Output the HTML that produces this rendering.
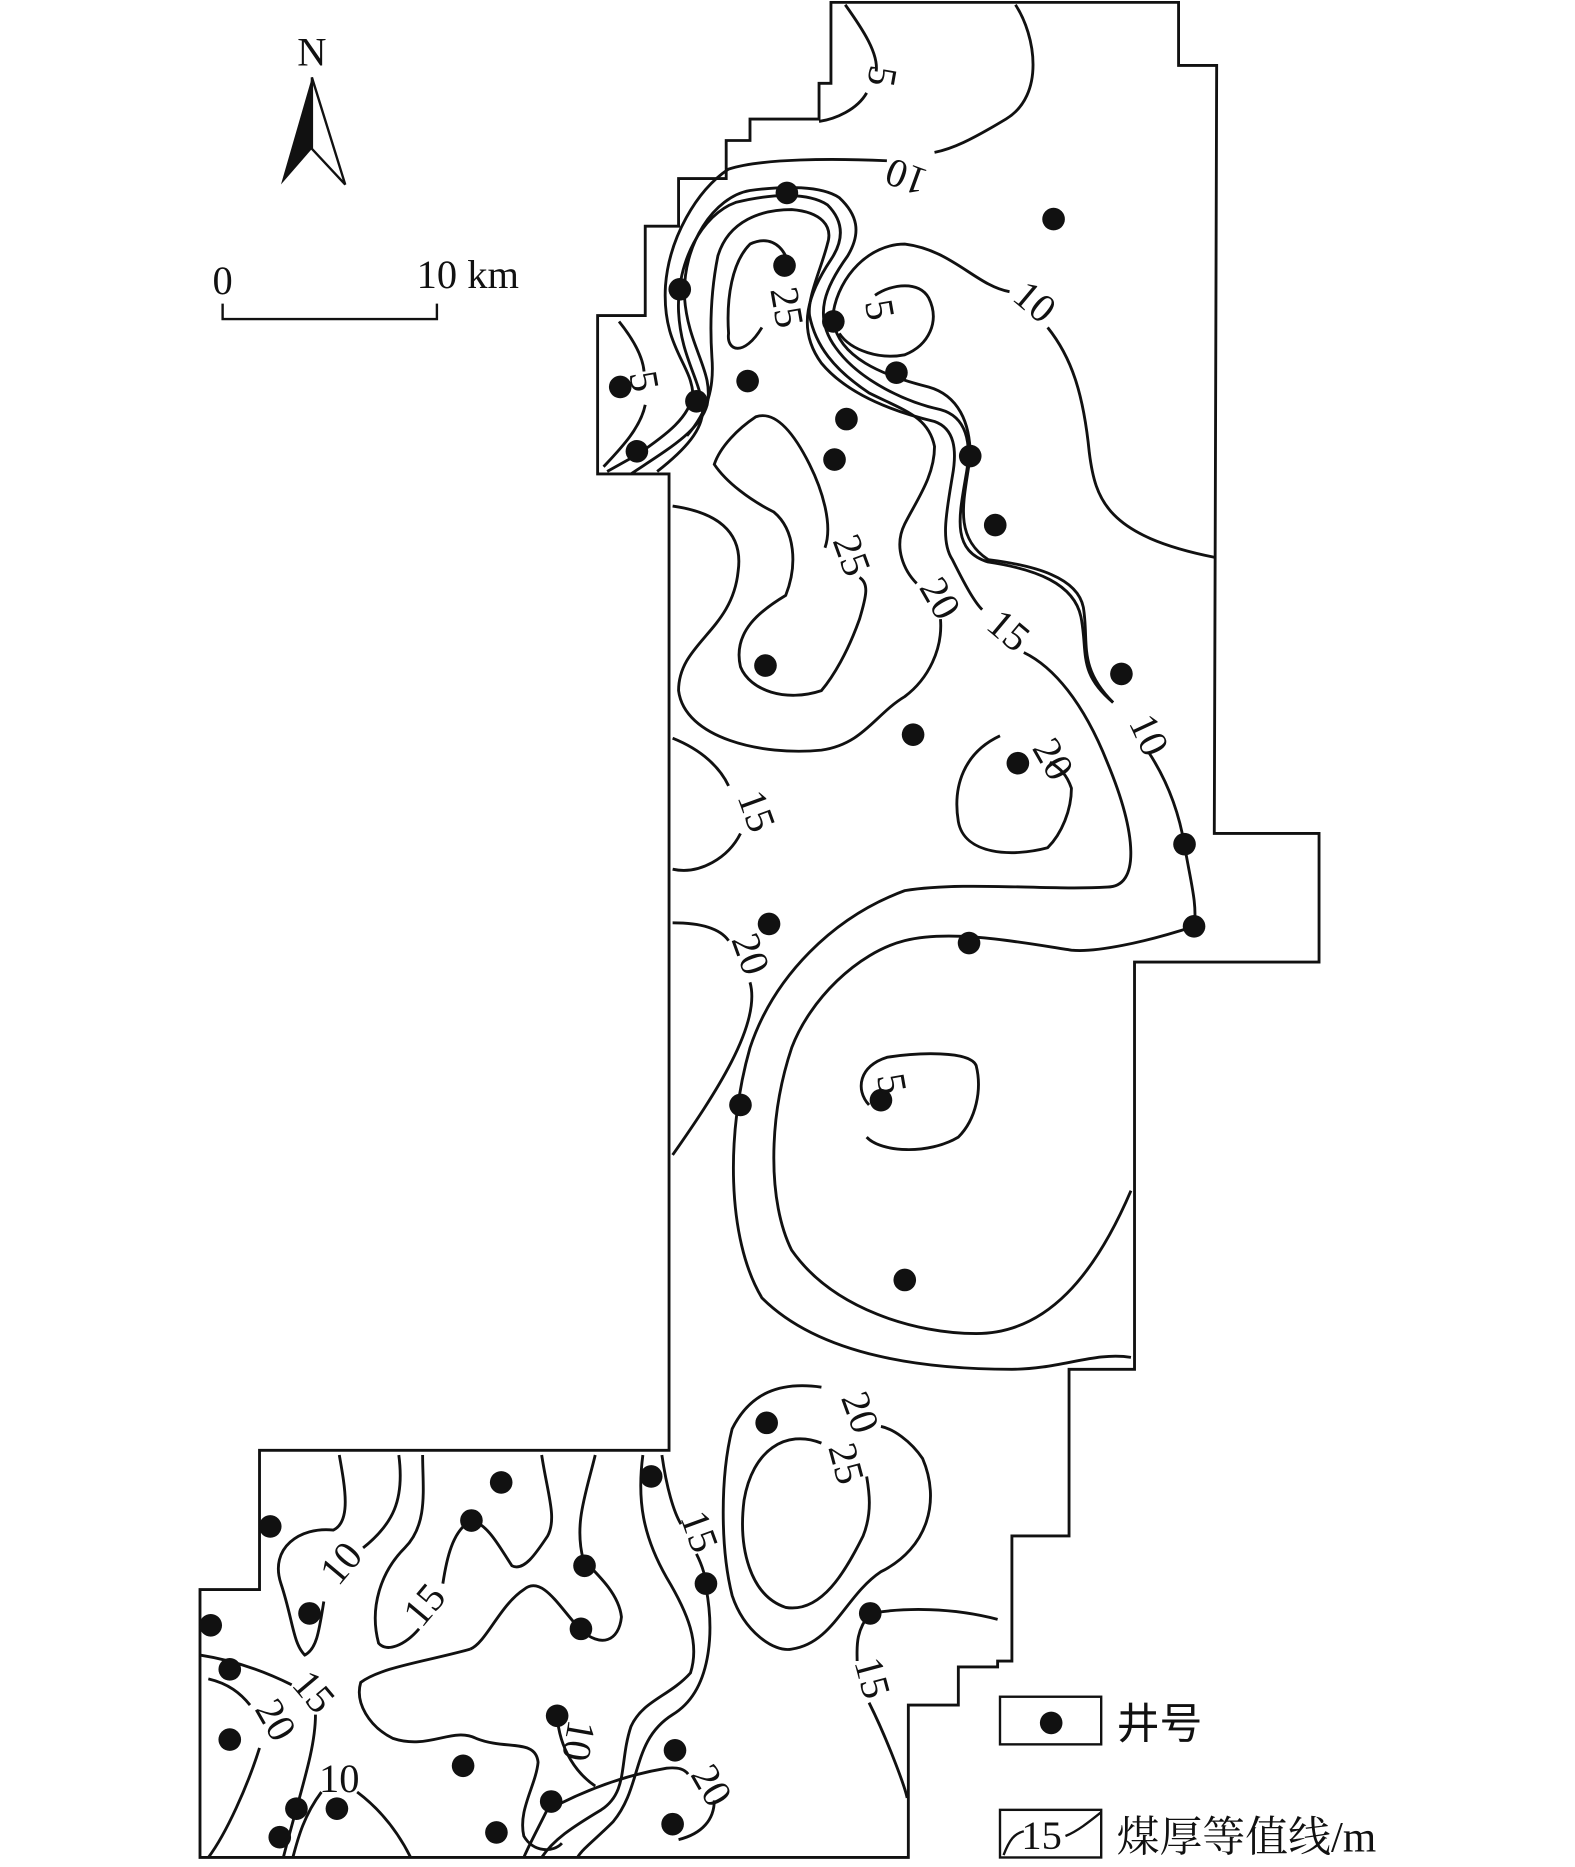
<!DOCTYPE html>
<html><head><meta charset="utf-8"><style>html,body{margin:0;padding:0;background:#fff}svg{display:block}</style></head>
<body>
<svg width="1575" height="1867" viewBox="0 0 1323 1568" preserveAspectRatio="none" xmlns="http://www.w3.org/2000/svg" font-family="Liberation Serif, serif">
<g fill="none" stroke="#111" stroke-width="2.4">
<path d="M698,2 L990,2 L990,55 L1022,55 L1020,700 L1108,700 L1108,808 L953,808 L953,1150 L898,1150 L898,1290 L850,1290 L850,1395 L838,1395 L838,1400 L805,1400 L805,1432 L763,1432 L763,1560 L168,1560 L168,1335 L218,1335 L218,1218 L562,1218 L562,398 L502,398 L502,265 L542,265 L542,190 L570,190 L570,150 L610,150 L610,118 L630,118 L630,100 L688,100 L688,70 L698,70 Z"/>
<path d="M710,4 C725,25 738,45 736,60"/><path d="M728,78 C720,92 702,100 688,102"/>
<path d="M853,4 C870,30 878,80 845,100 C815,118 800,125 785,128"/>
<path d="M745,135 C700,133 640,133 612,142 C585,160 562,200 559,240 C556,290 580,305 582,330 C580,350 560,365 535,382 L510,396"/>
<path d="M520,270 C532,285 540,300 541,312"/><path d="M542,340 C538,360 520,378 507,392"/>
<path d="M530,398 C560,378 588,362 594,340 C600,312 578,292 575,250 C573,205 600,165 630,160 C660,156 690,156 705,166 C720,180 724,195 712,215 C694,240 682,265 702,292 C722,320 762,338 790,344 C812,350 816,372 812,396 C806,432 798,462 830,472 C870,478 902,490 908,518 C914,548 905,565 935,590"/>
<path d="M552,396 C575,378 592,360 590,342 C588,318 572,300 570,262 C568,220 590,180 618,170 C650,162 680,162 695,172 C708,185 710,200 698,218 C680,245 668,275 690,305 C715,335 760,348 785,354 C802,360 804,378 800,400 C795,430 790,455 800,470 C810,490 818,505 825,512"/>
<path d="M860,548 C885,560 910,590 930,640 C955,700 958,745 930,745 C880,748 810,740 760,748 C700,770 650,820 630,880 C610,950 610,1040 640,1090 C690,1140 780,1150 850,1150 C890,1150 920,1135 950,1140"/>
<path d="M577,366 C595,345 600,325 598,300 C596,270 598,240 603,215 C612,185 640,176 665,176 C690,178 700,190 695,205 C690,225 678,250 680,265 C685,290 700,310 730,330 C760,345 780,350 785,375 C785,400 770,420 760,440 C750,460 760,480 770,490"/>
<path d="M790,520 C792,545 780,570 760,585 C735,600 725,625 690,630 C640,635 575,620 570,580 C570,540 615,530 620,480 C625,445 600,430 565,425"/>
<path d="M640,275 C625,300 610,295 612,280 C610,250 615,220 630,205 C645,198 655,205 660,215"/>
<path d="M700,262 C705,232 730,205 760,205 C800,210 820,240 848,245"/><path d="M880,275 C900,300 910,330 915,380 C920,420 930,450 1020,468"/>
<path d="M735,248 C750,238 772,236 780,250 C790,270 780,290 760,298 C740,302 715,295 705,280"/>
<path d="M700,270 C705,300 740,315 780,325 C805,332 815,355 815,383 C810,420 800,450 830,470 C870,475 905,485 910,510 C915,540 905,560 935,590"/>
<path d="M965,632 C980,655 990,680 995,710 C1000,740 1006,760 1003,778 C960,792 920,800 900,798 C860,792 800,780 760,790 C720,800 680,840 665,880 C645,940 645,1010 665,1050 C700,1100 770,1120 820,1120 C880,1120 920,1070 950,1000"/>
<path d="M693,460 C700,440 690,410 680,390 C665,360 650,345 635,350 C620,360 605,375 600,390 C610,405 630,420 650,430 C668,445 670,475 660,500 C640,512 615,530 622,560 C630,580 660,590 690,580 C700,568 712,548 722,520 C728,500 730,490 722,485"/>
<path d="M840,618 C810,632 800,660 805,690 C810,718 850,720 880,712 C892,700 900,680 900,662 C896,650 890,645 882,640"/>
<path d="M730,928 C718,915 722,895 745,888 C770,884 815,882 820,895 C825,915 820,940 805,955 C780,970 740,968 728,955"/>
<path d="M565,620 C590,630 605,645 612,660"/><path d="M622,700 C612,720 588,735 565,730"/>
<path d="M565,775 C590,775 605,780 612,790"/><path d="M630,825 C640,860 600,920 565,970"/>
<path d="M690,1165 C655,1160 630,1170 615,1200 C605,1240 605,1300 615,1340 C625,1370 650,1388 665,1385 C700,1380 710,1340 740,1320 C780,1300 790,1260 775,1225 C765,1210 750,1200 740,1198"/>
<path d="M690,1212 C660,1200 632,1218 625,1260 C620,1300 630,1340 660,1350 C690,1355 710,1320 725,1290 C733,1270 730,1252 728,1240"/>
<path d="M731,1355 C760,1350 800,1350 838,1360"/><path d="M731,1355 C718,1370 720,1385 720,1395"/><path d="M730,1430 C745,1460 760,1500 762,1510"/>
<path d="M540,1222 C535,1260 540,1290 560,1325 C578,1355 588,1380 580,1405 C562,1425 540,1428 530,1450 C520,1480 528,1505 505,1520 C480,1535 465,1545 455,1560"/>
<path d="M556,1222 C560,1250 566,1270 572,1280"/><path d="M585,1305 C590,1315 593,1325 593,1333 C600,1370 598,1420 565,1440 C530,1462 540,1500 515,1530 C500,1545 490,1552 485,1560"/>
<path d="M500,1222 C492,1255 482,1280 490,1310 C505,1325 520,1340 522,1358 C520,1378 505,1385 487,1368 C470,1350 455,1322 440,1335 C420,1348 408,1380 395,1385"/>
<path d="M455,1222 C460,1255 468,1275 460,1290 C450,1305 440,1320 430,1315 C420,1300 410,1280 396,1277 C380,1285 375,1310 372,1330"/><path d="M352,1368 C340,1382 325,1388 318,1380 C310,1350 320,1320 340,1300 C360,1280 355,1250 355,1222"/>
<path d="M285,1222 C290,1250 295,1278 280,1285 C252,1282 226,1300 236,1330 C246,1360 246,1380 256,1390 C266,1385 268,1370 272,1345"/><path d="M305,1300 C330,1280 340,1260 335,1222"/>
<path d="M395,1385 C360,1395 320,1400 303,1413 C298,1430 310,1450 330,1460 C360,1470 380,1450 400,1460 C425,1470 450,1460 452,1480 C450,1500 435,1520 440,1542 C448,1556 465,1556 472,1548"/>
<path d="M468,1441 C470,1470 485,1490 500,1500"/>
<path d="M168,1390 C200,1395 225,1405 245,1415"/><path d="M265,1440 C265,1470 252,1505 238,1560"/>
<path d="M175,1410 C192,1414 202,1422 210,1432"/><path d="M218,1468 C208,1500 190,1540 175,1560"/>
<path d="M300,1505 C320,1520 335,1540 345,1560"/><path d="M270,1505 C255,1525 250,1545 246,1560"/>
<path d="M470,1515 C500,1500 530,1490 560,1485 C570,1484 575,1486 578,1490"/><path d="M600,1512 C600,1528 590,1540 570,1545"/>
<path d="M463,1513 C455,1530 445,1548 440,1560"/>
</g>
<g fill="#111">
<circle cx="661" cy="162" r="9.5"/><circle cx="885" cy="184" r="9.5"/><circle cx="659" cy="223" r="9.5"/><circle cx="571" cy="243" r="9.5"/><circle cx="700" cy="270" r="9.5"/><circle cx="753" cy="313" r="9.5"/><circle cx="628" cy="320" r="9.5"/><circle cx="521" cy="325" r="9.5"/><circle cx="585" cy="337" r="9.5"/><circle cx="711" cy="352" r="9.5"/><circle cx="701" cy="386" r="9.5"/><circle cx="535" cy="379" r="9.5"/><circle cx="815" cy="383" r="9.5"/><circle cx="836" cy="441" r="9.5"/><circle cx="643" cy="559" r="9.5"/><circle cx="942" cy="566" r="9.5"/><circle cx="767" cy="617" r="9.5"/><circle cx="855" cy="641" r="9.5"/><circle cx="995" cy="709" r="9.5"/><circle cx="1003" cy="778" r="9.5"/><circle cx="646" cy="776" r="9.5"/><circle cx="814" cy="792" r="9.5"/><circle cx="622" cy="928" r="9.5"/><circle cx="740" cy="924" r="9.5"/><circle cx="760" cy="1075" r="9.5"/><circle cx="644" cy="1195" r="9.5"/><circle cx="547" cy="1240" r="9.5"/><circle cx="421" cy="1245" r="9.5"/><circle cx="227" cy="1282" r="9.5"/><circle cx="396" cy="1277" r="9.5"/><circle cx="491" cy="1315" r="9.5"/><circle cx="260" cy="1355" r="9.5"/><circle cx="593" cy="1330" r="9.5"/><circle cx="177" cy="1365" r="9.5"/><circle cx="488" cy="1368" r="9.5"/><circle cx="731" cy="1355" r="9.5"/><circle cx="193" cy="1402" r="9.5"/><circle cx="468" cy="1441" r="9.5"/><circle cx="193" cy="1461" r="9.5"/><circle cx="389" cy="1483" r="9.5"/><circle cx="567" cy="1470" r="9.5"/><circle cx="463" cy="1513" r="9.5"/><circle cx="249" cy="1519" r="9.5"/><circle cx="283" cy="1519" r="9.5"/><circle cx="565" cy="1532" r="9.5"/><circle cx="417" cy="1539" r="9.5"/><circle cx="235" cy="1543" r="9.5"/>
</g>
<g font-size="34" fill="#111" text-anchor="middle">
<text transform="translate(730,62) rotate(100)">5</text>
<text transform="translate(765,138) rotate(200)">10</text>
<text transform="translate(862,262) rotate(40)">10</text>
<text transform="translate(728,262) rotate(80)">5</text>
<text transform="translate(650,260) rotate(80)">25</text>
<text transform="translate(530,322) rotate(80)">5</text>
<text transform="translate(705,470) rotate(70)">25</text>
<text transform="translate(780,508) rotate(60)">20</text>
<text transform="translate(840,538) rotate(40)">15</text>
<text transform="translate(955,622) rotate(65)">10</text>
<text transform="translate(875,643) rotate(60)">20</text>
<text transform="translate(625,685) rotate(70)">15</text>
<text transform="translate(620,805) rotate(70)">20</text>
<text transform="translate(738,912) rotate(80)">5</text>
<text transform="translate(712,1190) rotate(70)">20</text>
<text transform="translate(700,1232) rotate(75)">25</text>
<text transform="translate(577,1290) rotate(70)">15</text>
<text transform="translate(295,1320) rotate(-50)">10</text>
<text transform="translate(365,1355) rotate(-50)">15</text>
<text transform="translate(722,1412) rotate(75)">15</text>
<text transform="translate(255,1428) rotate(50)">15</text>
<text transform="translate(222,1450) rotate(60)">20</text>
<text transform="translate(285,1505)">10</text>
<text transform="translate(475,1460) rotate(100)">10</text>
<text transform="translate(588,1505) rotate(60)">20</text>
</g>
<text x="262" y="55" font-size="34" text-anchor="middle" fill="#111">N</text>
<polygon points="262,65 236,155 262,125" fill="#111"/>
<polygon points="262,65 290,155 262,125" fill="none" stroke="#111" stroke-width="2"/>
<text x="187" y="247" font-size="34" text-anchor="middle" fill="#111">0</text>
<text x="350" y="242" font-size="34" fill="#111">10 km</text>
<path d="M187,255 L187,268 L367,268 L367,255" fill="none" stroke="#111" stroke-width="2"/>
<rect x="840" y="1425" width="85" height="40" fill="none" stroke="#111" stroke-width="2"/>
<circle cx="883" cy="1447" r="9.5" fill="#111"/>
<text x="938" y="1460" font-size="36" fill="#111" font-family="Noto Sans CJK SC, sans-serif">井号</text>
<rect x="840" y="1520" width="85" height="40" fill="none" stroke="#111" stroke-width="2"/>
<text x="875" y="1553" font-size="34" text-anchor="middle" fill="#111">15</text>
<path d="M843,1558 C848,1545 852,1540 860,1538 M895,1542 C905,1538 915,1530 925,1522" fill="none" stroke="#111" stroke-width="2"/>
<text x="938" y="1555" font-size="36" fill="#111" font-family="Liberation Serif, Noto Serif CJK SC, serif">煤厚等值线/m</text>
</svg>
</body></html>
